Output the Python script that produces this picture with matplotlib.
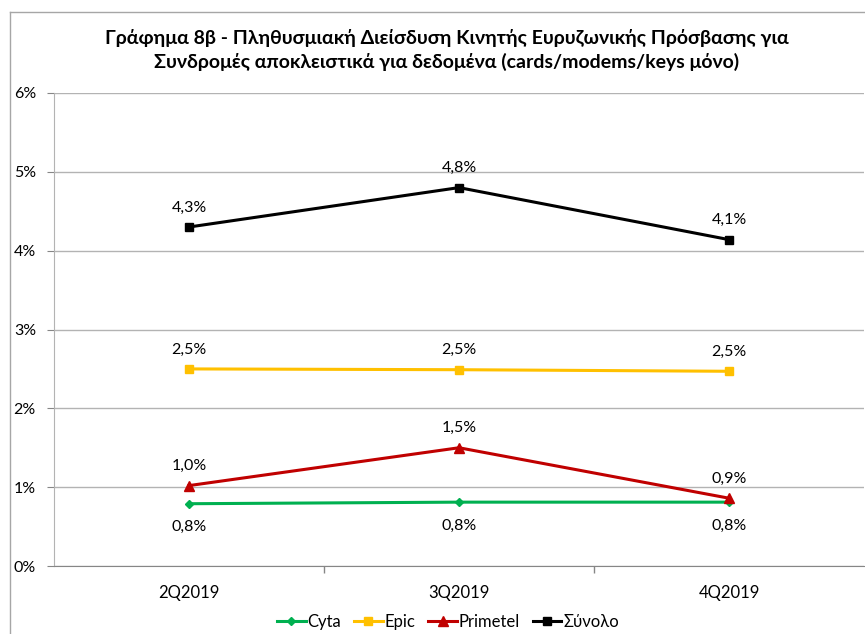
import matplotlib
matplotlib.use("Agg")
import matplotlib.pyplot as plt
from matplotlib.lines import Line2D
from matplotlib.ticker import FuncFormatter, FixedLocator

plt.rcParams['font.family'] = ['Lato', 'Noto Sans', 'DejaVu Sans']

categories = ["2Q2019", "3Q2019", "4Q2019"]
series_names = ["Cyta", "Epic", "Primetel", "Σύνολο"]
cyta = [0.79, 0.81, 0.81]
epic = [2.50, 2.49, 2.47]
primetel = [1.02, 1.50, 0.86]
synolo = [4.30, 4.80, 4.14]
labels_cyta = ["0,8%", "0,8%", "0,8%"]
labels_epic = ["2,5%", "2,5%", "2,5%"]
labels_primetel = ["1,0%", "1,5%", "0,9%"]
labels_synolo = ["4,3%", "4,8%", "4,1%"]
yticks = [0, 1, 2, 3, 4, 5, 6]
title = ("Γράφημα 8β - Πληθυσμιακή Διείσδυση Κινητής Ευρυζωνικής Πρόσβασης για\n"
         "Συνδρομές αποκλειστικά για δεδομένα (cards/modems/keys μόνο)")

W, H = 865, 634
fig = plt.figure(figsize=(W / 100, H / 100), dpi=100)
ax = fig.add_axes([54 / W, 1 - 566 / H, (864 - 54) / W, (566 - 93) / H])

x = list(range(len(categories)))
styles = [
    (cyta, labels_cyta, "#00B050", "D", 4.5, -17),
    (epic, labels_epic, "#FFC000", "s", 6, 14),
    (primetel, labels_primetel, "#C00000", "^", 6.5, 14),
    (synolo, labels_synolo, "#000000", "s", 6, 14),
]
for (vals, labs, col, mk, ms, off), name in zip(styles, series_names):
    ax.plot(x, vals, color=col, lw=2.2, marker=mk, ms=ms, label=name, zorder=3)
    for xi, v, lab in zip(x, vals, labs):
        ax.annotate(lab, (xi, v), xytext=(0, off), textcoords="offset points",
                    ha="center", va="center", fontsize=11.5, color="#000000")

ax.set_xlim(-0.5, len(categories) - 0.5)
ax.set_ylim(0, 6)
ax.set_yticks(yticks)
ax.yaxis.set_major_formatter(FuncFormatter(lambda v, p: f"{int(v)}%"))
ax.set_xticks(x)
ax.set_xticklabels(categories)
ax.xaxis.set_minor_locator(FixedLocator([0.5, 1.5]))
ax.tick_params(axis="x", which="major", length=0, pad=14, labelsize=12)
ax.tick_params(axis="x", which="minor", length=5, color="#868686", width=1)
ax.tick_params(axis="y", length=5, color="#868686", labelsize=11.5, pad=8)
ax.grid(axis="y", color="#B3B3B3", lw=1)
ax.set_axisbelow(True)
for s in ["top", "right"]:
    ax.spines[s].set_visible(False)
ax.spines["left"].set_color("#B3B3B3")
ax.spines["bottom"].set_color("#868686")

fig.text(447 / W, 1 - 50 / H, title, ha="center", va="center", fontsize=14,
         fontweight="bold", linespacing=1.45)

leg = fig.legend(loc="center", bbox_to_anchor=(448 / W, 1 - 622 / H), ncol=4,
                 frameon=False, fontsize=12, handlelength=1.7, columnspacing=0.8,
                 handletextpad=0.1)

fig.add_artist(Line2D([10 / W, 10 / W], [0, 1 - 12 / H], transform=fig.transFigure,
                      color="#A6A6A6", lw=1))
fig.add_artist(Line2D([10 / W, 1], [1 - 12 / H, 1 - 12 / H], transform=fig.transFigure,
                      color="#A6A6A6", lw=1))

fig.savefig("out.png", dpi=100)
